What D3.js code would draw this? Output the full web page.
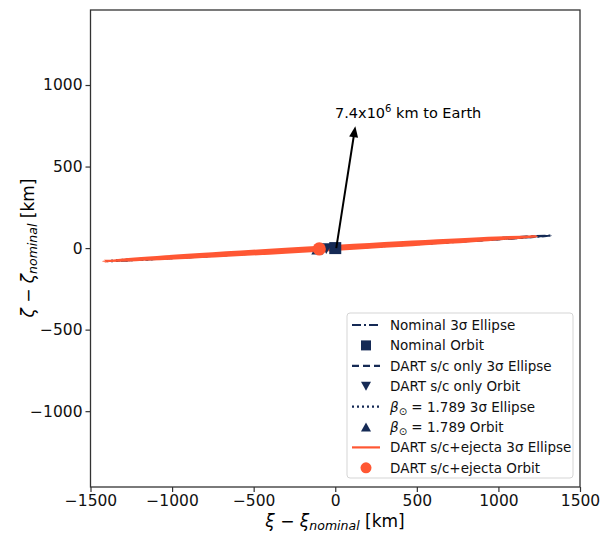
<!DOCTYPE html>
<html><head><meta charset="utf-8">
<script src="https://cdn.jsdelivr.net/npm/d3@7"></script>
<style>body{margin:0;background:#fff}text{font-family:"DejaVu Sans",sans-serif}</style>
</head><body>
<svg id="c" width="600" height="533"></svg>
<script>
// ---- data ----
const xTicks = [-1500, -1000, -500, 0, 500, 1000, 1500];
const yTicks = [-1000, -500, 0, 500, 1000];
// ellipses: center xi, center zeta, semi-major, semi-minor, angle (deg)
const ellipseNames = ["Nominal 3σ Ellipse", "DART s/c only 3σ Ellipse", "β⊙ = 1.789 3σ Ellipse", "DART s/c+ejecta 3σ Ellipse"];
const ellipseCx = [0, -55, -110, -92];
const ellipseCy = [0, -3, -6, -4];
const ellipseA = [1325, 1290, 1290, 1330];
const ellipseB = [5, 5, 5, 9];
const ellipseAngle = [3.3, 3.3, 3.3, 3.3];
const orbitNames = ["Nominal Orbit", "DART s/c only Orbit", "β⊙ = 1.789 Orbit", "DART s/c+ejecta Orbit"];
const orbitXi = [0, -55, -110, -98];
const orbitZeta = [0, -3, -6, -5];
const earthArrow = [0, 0, 123, 747];
const earthLabel = "7.4x10";

const W = 600, H = 533;
const m = {l: 90.5, r: 580, t: 10, b: 487};
const navy = "#152a55", orange = "#ff5733";
const svg = d3.select("#c");
const x = d3.scaleLinear().domain([-1500, 1500]).range([m.l, m.r]);
const y = d3.scaleLinear().domain([-1465, 1460]).range([m.b, m.t]);

svg.append("clipPath").attr("id","clp").append("rect")
  .attr("x", m.l).attr("y", m.t).attr("width", m.r-m.l).attr("height", m.b-m.t);
const g = svg.append("g").attr("clip-path","url(#clp)");

const dashes = ["9,3,2,3", "7,4", "2,3", null];
const colors = [navy, navy, navy, orange];
const widths = [2.2, 2.2, 2.2, 3];
ellipseNames.forEach((n,i)=>{
  const cx = x(ellipseCx[i]), cy = y(ellipseCy[i]);
  const rx = x(ellipseCx[i]+ellipseA[i]) - x(ellipseCx[i]);
  const ry = y(0) - y(ellipseB[i]);
  g.append("ellipse").attr("cx",cx).attr("cy",cy).attr("rx",rx).attr("ry",ry)
    .attr("transform",`rotate(${-ellipseAngle[i]},${cx},${cy})`)
    .attr("fill", i===3?orange:"none").attr("stroke",colors[i]).attr("stroke-width",widths[i])
    .attr("stroke-dasharray",dashes[i]);
});

// markers
function marker(sel, k, cx, cy, s){
  const col = k===3?orange:navy;
  if (k===0) sel.append("rect").attr("x",cx-s/2).attr("y",cy-s/2).attr("width",s).attr("height",s).attr("fill",col);
  else if (k===3) sel.append("circle").attr("cx",cx).attr("cy",cy).attr("r",s*0.55).attr("fill",col);
  else {
    const h = s*0.9, d = k===1?1:-1;
    sel.append("path").attr("d",`M${cx-s/2},${cy-d*h/2}L${cx+s/2},${cy-d*h/2}L${cx},${cy+d*h/2}Z`).attr("fill",col);
  }
}
[2,1,0,3].forEach(k=>marker(g,k,x(orbitXi[k]),y(orbitZeta[k]),12));

// arrow
const ax1 = x(earthArrow[0])+1, ay1=y(earthArrow[1]), ax2=x(earthArrow[2]), ay2=y(earthArrow[3]);
const ang = Math.atan2(ay2-ay1, ax2-ax1);
svg.append("line").attr("x1",ax1).attr("y1",ay1).attr("x2",ax2-8*Math.cos(ang)).attr("y2",ay2-8*Math.sin(ang))
  .attr("stroke","#000").attr("stroke-width",2);
svg.append("path").attr("d",()=>{
  const L=11, Wd=4.5, c=Math.cos(ang), s=Math.sin(ang);
  const bx=ax2-L*c, by=ay2-L*s;
  return `M${ax2},${ay2}L${bx - Wd*s},${by + Wd*c}L${bx + Wd*s},${by - Wd*c}Z`;
}).attr("fill","#000");
const t = svg.append("text").attr("x",335).attr("y",118).attr("font-size",14.5).attr("fill","#000");
t.append("tspan").text(earthLabel);
t.append("tspan").attr("font-size",10).attr("dy",-6).text("6");
t.append("tspan").attr("dy",6).text(" km to Earth");

// axes
const xa = svg.append("g").attr("transform",`translate(0,${m.b})`)
  .call(d3.axisBottom(x).tickValues(xTicks).tickSize(5).tickPadding(3).tickFormat(d=>d<0?"−"+Math.abs(d):d));
const ya = svg.append("g").attr("transform",`translate(${m.l},0)`)
  .call(d3.axisLeft(y).tickValues(yTicks).tickSize(5).tickPadding(3).tickFormat(d=>d<0?"−"+Math.abs(d):d));
[xa,ya].forEach(a=>{a.select(".domain").remove();a.selectAll("text").attr("font-size",15.5).attr("font-family","DejaVu Sans").attr("fill","#111");a.selectAll("line").attr("stroke","#333").attr("stroke-width",1.2);});
svg.append("rect").attr("x",m.l).attr("y",m.t).attr("width",m.r-m.l).attr("height",m.b-m.t)
  .attr("fill","none").attr("stroke","#333").attr("stroke-width",1.3);

// axis labels
const xl = svg.append("text").attr("x",335).attr("y",527).attr("text-anchor","middle").attr("font-size",17);
xl.append("tspan").attr("font-style","italic").text("ξ");
xl.append("tspan").text(" − ");
xl.append("tspan").attr("font-style","italic").text("ξ");
xl.append("tspan").attr("font-size",12.5).attr("font-style","italic").attr("dy",3).text("nominal");
xl.append("tspan").attr("dy",-3).text(" [km]");
const yl = svg.append("text").attr("transform",`translate(34,248) rotate(-90)`).attr("text-anchor","middle").attr("font-size",17);
yl.append("tspan").attr("font-style","italic").text("ζ");
yl.append("tspan").text(" − ");
yl.append("tspan").attr("font-style","italic").text("ζ");
yl.append("tspan").attr("font-size",12.5).attr("font-style","italic").attr("dy",3).text("nominal");
yl.append("tspan").attr("dy",-3).text(" [km]");

// legend
const lg = svg.append("g");
lg.append("rect").attr("x",347).attr("y",313).attr("width",226).attr("height",165).attr("rx",3)
  .attr("fill","#fff").attr("fill-opacity",0.85).attr("stroke","#d5d5d5");
const items = [
  {type:"line",k:0,label:"Nominal 3σ Ellipse"},
  {type:"mark",k:0,label:"Nominal Orbit"},
  {type:"line",k:1,label:"DART s/c only 3σ Ellipse"},
  {type:"mark",k:1,label:"DART s/c only Orbit"},
  {type:"line",k:2,label:"beta",suffix:" 3σ Ellipse"},
  {type:"mark",k:2,label:"beta",suffix:" Orbit"},
  {type:"line",k:3,label:"DART s/c+ejecta 3σ Ellipse"},
  {type:"mark",k:3,label:"DART s/c+ejecta Orbit"}
];
items.forEach((it,i)=>{
  const yy = 325 + i*20.4;
  if (it.type==="line") lg.append("line").attr("x1",352).attr("x2",380).attr("y1",yy).attr("y2",yy)
    .attr("stroke",colors[it.k]).attr("stroke-width",2.2).attr("stroke-dasharray",dashes[it.k]);
  else marker(lg,it.k,366,yy,10);
  const tx = lg.append("text").attr("x",390).attr("y",yy+5).attr("font-size",13.5).attr("fill","#111");
  if (it.label==="beta"){
    tx.append("tspan").attr("font-style","italic").text("β");
    tx.append("tspan").attr("font-size",10).attr("dy",3).text("⊙");
    tx.append("tspan").attr("dy",-3).text(" = 1.789"+it.suffix);
  } else tx.text(it.label);
});
</script>
</body></html>
